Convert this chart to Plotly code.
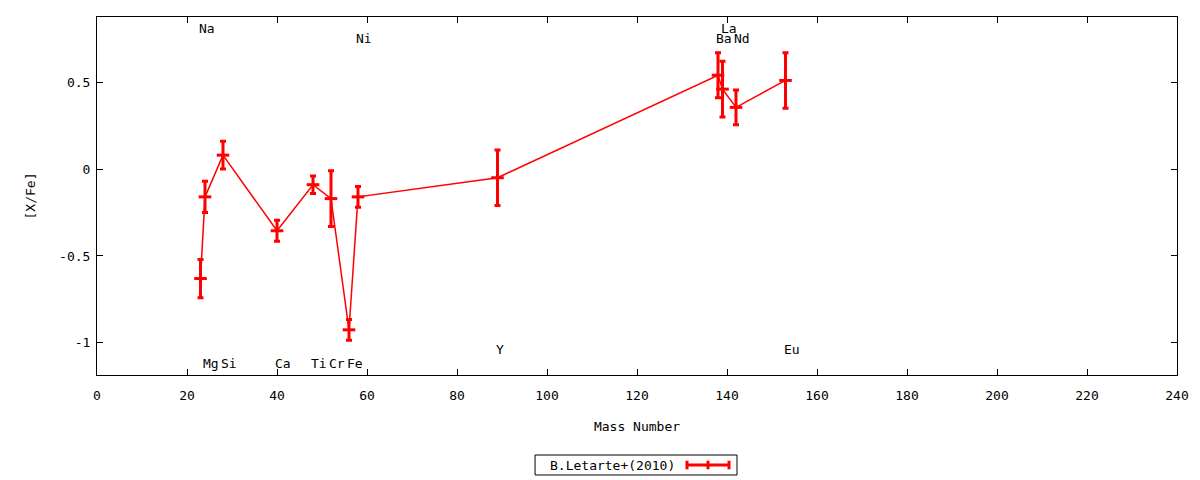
import plotly.graph_objects as go

# B.Letarte+(2010) abundances
elements = ["Na", "Mg", "Si", "Ca", "Ti", "Cr", "Fe", "Ni", "Y", "Ba", "La", "Nd", "Eu"]
mass = [23, 24, 28, 40, 48, 52, 56, 58, 89, 138, 139, 142, 153]
xfe = [-0.63, -0.16, 0.08, -0.355, -0.09, -0.17, -0.925, -0.16, -0.05, 0.54, 0.46, 0.355, 0.51]
err = [0.11, 0.09, 0.08, 0.06, 0.05, 0.16, 0.06, 0.06, 0.16, 0.13, 0.16, 0.10, 0.16]

# label heights as placed in the original
label_y = [0.81, -1.12, -1.12, -1.12, -1.12, -1.12, -1.12, 0.75, -1.04, 0.75, 0.81, 0.75, -1.04]

font = "DejaVu Sans Mono"
fsize = 13
red = "#ff0000"

fig = go.Figure()
fig.add_trace(go.Scatter(
    x=mass, y=xfe, mode="lines+markers", name="B.Letarte+(2010)",
    line=dict(color=red, width=1.5),
    marker=dict(symbol="line-ew", size=9, color=red, line=dict(color=red, width=3)),
    error_y=dict(type="data", array=err, color=red, thickness=3, width=3),
    showlegend=False,
))

for el, m, ly in zip(elements, mass, label_y):
    fig.add_annotation(x=m, y=ly, text=el, showarrow=False, xanchor="left", xshift=-4,
                       font=dict(family=font, size=fsize, color="black"))

# legend box drawn by hand (text left, sample right as in the original)
lx0, lx1, ly0, ly1 = 0.4056, 0.5926, -0.2793, -0.2235
ymid = (ly0 + ly1) / 2
fig.add_shape(type="rect", xref="paper", yref="paper", x0=lx0, x1=lx1, y0=ly0, y1=ly1,
              line=dict(color="black", width=1))
fig.add_annotation(xref="paper", yref="paper", x=0.4176, y=ymid, text="B.Letarte+(2010)",
                   showarrow=False, xanchor="left", yanchor="middle",
                   font=dict(family=font, size=fsize, color="black"))
sx0, sx1 = 0.5463, 0.5852
fig.add_shape(type="line", xref="paper", yref="paper", x0=sx0, x1=sx1, y0=ymid, y1=ymid,
              line=dict(color=red, width=3))
for sx in (sx0, (sx0 + sx1) / 2, sx1):
    fig.add_shape(type="line", xref="paper", yref="paper", x0=sx, x1=sx,
                  y0=ymid - 0.012, y1=ymid + 0.012, line=dict(color=red, width=3))

axis_common = dict(showline=True, linecolor="black", linewidth=1, mirror="ticks",
                   ticks="inside", ticklen=6, tickcolor="black", showgrid=False,
                   zeroline=False, tickfont=dict(family=font, size=fsize, color="black"))

fig.update_xaxes(range=[0, 240], dtick=20, tick0=0, ticklabelstandoff=8,
                 title=dict(text="Mass Number", font=dict(family=font, size=fsize, color="black"),
                            standoff=20),
                 **axis_common)
fig.update_yaxes(range=[-1.185, 0.875], tickvals=[-1, -0.5, 0, 0.5],
                 ticktext=["-1", "-0.5", "0", "0.5"], ticklabelstandoff=3,
                 title=dict(text="[X/Fe]", font=dict(family=font, size=fsize, color="black"),
                            standoff=20),
                 **axis_common)

# page body has an 8px margin, so the figure is trimmed to fit the window
fig.update_layout(width=1192, height=472, plot_bgcolor="white", paper_bgcolor="white",
                  margin=dict(l=89, r=23, t=9, b=105))

fig.write_html("out.html")
